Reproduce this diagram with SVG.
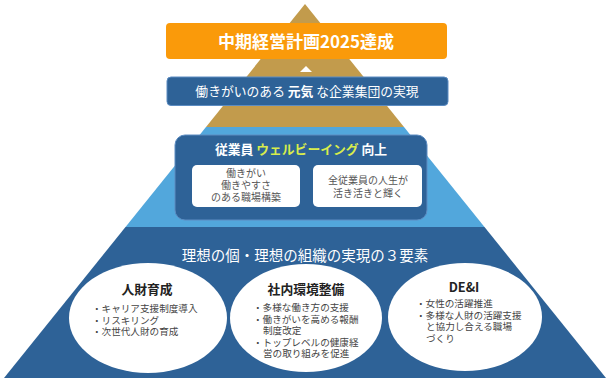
<svg xmlns="http://www.w3.org/2000/svg" width="612" height="382" viewBox="0 0 612 382">
<style>
text{font-family:"Noto Sans CJK JP","Noto Sans",sans-serif}
.w{fill:#fff}
.t{fill:#222;font-weight:bold;font-size:12.8px;text-anchor:middle}
.b{fill:#444;font-size:9.6px}
.ib{fill:#555;font-size:10px;text-anchor:middle}
.ell{fill:#fff}
</style>
<rect width="612" height="382" fill="#fff"/>
<g id="pyramid">
<polygon points="305,4 404,127 206,127" fill="#C29B4C"/>
<polygon points="206,127 404,127 484.5,227 125.5,227" fill="#52A7DC"/>
<polygon points="125.5,227 484.5,227 606,378 4,378" fill="#2E6297"/>
</g>
<g id="goal">
<rect x="166" y="23" width="281" height="36" rx="4" fill="#FA9A0A"/>
<text x="306" y="48" class="w" font-size="17" font-weight="bold" text-anchor="middle">中期経営計画2025達成</text>
</g>
<g id="connectors">
<polygon points="306,66 312,72 300,72" fill="#fff"/>
</g>
<g id="vision">
<rect x="167" y="77" width="281" height="28.5" rx="4" fill="#2E6297" stroke="#5C8CC2" stroke-width="1"/>
<text x="307" y="96" class="w" font-size="12.8" text-anchor="middle">働きがいのある <tspan font-weight="bold">元気</tspan> な企業集団の実現</text>
</g>
<g id="wellbeing">
<rect x="175" y="135" width="252" height="85" rx="10" fill="#2E6297" stroke="#5C8CC2" stroke-width="1"/>
<text x="301" y="154" class="w" font-size="12.8" font-weight="bold" text-anchor="middle">従業員 <tspan fill="#D8EC4C">ウェルビーイング</tspan> 向上</text>
<rect x="192" y="165" width="108" height="42" rx="5" fill="#fff"/>
<text class="ib"><tspan x="246" y="177">働きがい</tspan><tspan x="246" y="189">働きやすさ</tspan><tspan x="246" y="201">のある職場構築</tspan></text>
<rect x="313" y="165" width="109" height="42" rx="5" fill="#fff"/>
<text class="ib"><tspan x="368" y="184">全従業員の人生が</tspan><tspan x="368" y="197">活き活きと輝く</tspan></text>
</g>
<g id="elements">
<text x="305" y="261" class="w" font-size="14.5" text-anchor="middle">理想の個・理想の組織の実現の３要素</text>
</g>
<g id="jinzai">
<ellipse cx="148" cy="318" rx="79" ry="55" class="ell"/>
<text x="147" y="294" class="t">人財育成</text>
<text class="b"><tspan x="92" y="312">・キャリア支援制度導入</tspan><tspan x="92" y="323.5">・リスキリング</tspan><tspan x="92" y="335">・次世代人財の育成</tspan></text>
</g>
<g id="kankyo">
<ellipse cx="306" cy="318" rx="76" ry="54" class="ell"/>
<text x="306" y="294" class="t">社内環境整備</text>
<text class="b"><tspan x="253" y="311">・多様な働き方の支援</tspan><tspan x="253" y="322.5">・働きがいを高める報酬</tspan><tspan x="263" y="334">制度改定</tspan><tspan x="253" y="345.5">・トップレベルの健康経</tspan><tspan x="263" y="357">営の取り組みを促進</tspan></text>
</g>
<g id="dei">
<ellipse cx="465" cy="317" rx="77" ry="54" class="ell"/>
<text x="464" y="292" class="t" font-size="13.5">DE&amp;I</text>
<text class="b"><tspan x="416" y="307">・女性の活躍推進</tspan><tspan x="416" y="318.5">・多様な人財の活躍支援</tspan><tspan x="426" y="330">と協力し合える職場</tspan><tspan x="426" y="341.5">づくり</tspan></text>
</g>
</svg>
